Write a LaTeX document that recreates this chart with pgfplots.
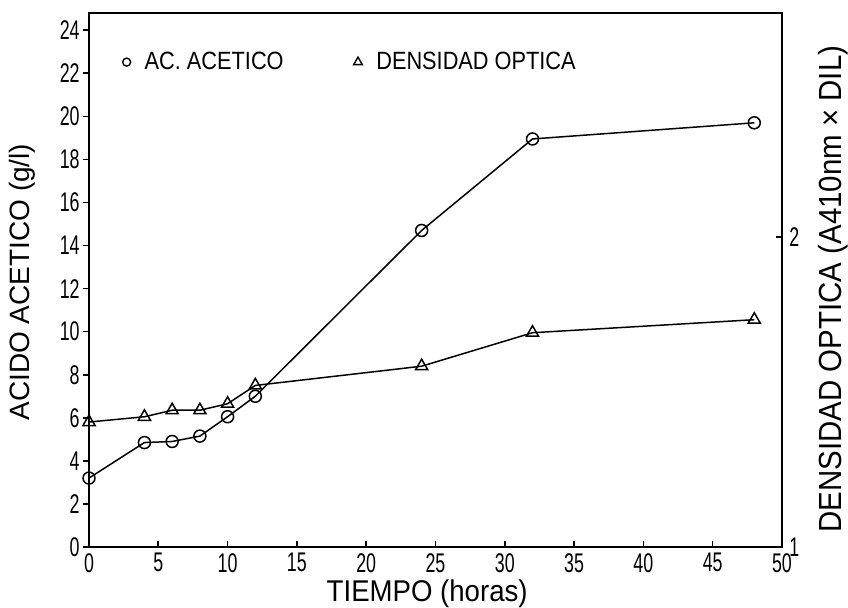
\documentclass[border=0pt]{standalone}
\usepackage{fontspec}
\setmainfont{Liberation Sans}
\newfontfamily\tickfont[FakeStretch=0.66]{Liberation Sans}
\newfontfamily\legfont[FakeStretch=0.87]{Liberation Sans}
\newfontfamily\labfont[FakeStretch=0.92]{Liberation Sans}
\usepackage{pgfplots}
\pgfplotsset{compat=1.18}
\begin{document}
\begin{tikzpicture}
\path[use as bounding box] (0,0) rectangle (424pt,304pt);
\begin{axis}[
 at={(44.5pt,30.5pt)}, anchor=south west,
 scale only axis, width=346.5pt, height=267pt,
 xmin=0, xmax=50, ymin=0, ymax=24.8,
 xtick={0,5,...,50}, ytick={0,2,...,24},
 xtick pos=left, ytick pos=left,
 xtick align=inside, ytick align=outside,
 major tick length=3pt,
 axis line style={line width=1pt},
 tick style={line width=0.8pt, black},
 /pgf/number format/assume math mode=true,
 ticklabel style={font=\tickfont\fontsize{13.5}{13.5}\selectfont, inner sep=0pt},
 yticklabel style={xshift=-1.5pt},
 xticklabel style={yshift=-3pt},
 xlabel={TIEMPO (horas)},
 xlabel style={at={(axis description cs:0.488,-0.088)}, anchor=center, inner sep=0pt, font=\labfont\fontsize{15}{15}\selectfont},
 ylabel={ACIDO ACETICO (g/l)},
 ylabel style={at={(axis description cs:-0.0967,0.496)}, anchor=center, inner sep=0pt, font=\fontsize{14}{14}\selectfont},
 legend style={at={(axis description cs:0.048,0.908)}, anchor=west, draw=none, fill=none, inner sep=0pt,
   font=\legfont\fontsize{12.5}{12.5}\selectfont,
   /tikz/every odd column/.append style={column sep=5pt},
   /tikz/every even column/.append style={column sep=33pt}},
 legend columns=2,
 legend image code/.code={\draw[#1] plot coordinates {(0pt,0pt)};},
]
\addlegendimage{black, mark=o, mark size=2pt, line width=0.7pt}
\addlegendentry{AC. ACETICO}
\addlegendimage{black, mark=triangle, mark size=2.5pt, line width=0.7pt}
\addlegendentry{DENSIDAD OPTICA}
\addplot[forget plot, black, line width=0.75pt, mark=o, mark size=3pt, mark options={fill=white, solid}]
 coordinates {(0,3.2) (4,4.85) (6,4.9) (8,5.15) (10,6.05) (12,7.0) (24,14.7) (32,18.95) (48,19.7)};
\end{axis}
\begin{axis}[
 at={(44.5pt,30.5pt)}, anchor=south west,
 scale only axis, width=346.5pt, height=267pt,
 xmin=0, xmax=50, ymin=1, ymax=2.7222,
 axis x line=none, axis y line*=right,
 y axis line style={-, line width=1pt},
 ytick={1,2},
 ytick align=inside,
 major tick length=3pt,
 tick style={line width=0.8pt, black},
 /pgf/number format/assume math mode=true,
 ticklabel style={font=\tickfont\fontsize{13.5}{13.5}\selectfont, inner sep=0pt},
 yticklabel style={xshift=3.5pt},
 ylabel={DENSIDAD OPTICA (A410nm × DIL)},
 ylabel style={at={(axis description cs:1.0736,0.483)}, anchor=center, inner sep=0pt, font=\labfont\fontsize{16}{16}\selectfont},
]
\addplot[black, line width=0.75pt, mark=triangle, mark size=3.5pt, mark options={fill=white, solid}]
 coordinates {(0,1.403) (4,1.420) (6,1.441) (8,1.441) (10,1.462) (12,1.521) (24,1.583) (32,1.691) (48,1.733)};
\end{axis}
\end{tikzpicture}
\end{document}
